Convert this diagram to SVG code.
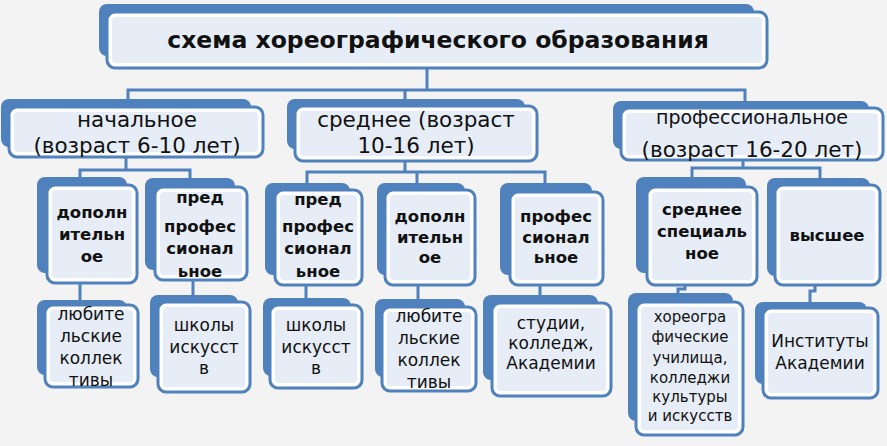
<svg xmlns="http://www.w3.org/2000/svg" width="887" height="446" viewBox="0 0 887 446">
<style>
.bk{fill:#4f81bd}
.fr{fill:#ffffff;stroke:#4f81bd;stroke-width:3}
.in{fill:#e6edf6}
.cn{fill:none;stroke:#4f81bd;stroke-width:3}
text{font-family:"DejaVu Sans","Liberation Sans",sans-serif;fill:#111111;text-anchor:middle}
.t0{font-size:23.5px;font-weight:bold}
.t1{font-size:21.5px}
.t2{font-size:16.5px;font-weight:bold}
.t3{font-size:17px}
.t4{font-size:15px}
</style>
<rect width="887" height="446" fill="#f3f3f3"/>
<g id="connectors">
<path class="cn" d="M427,68V90 M128,100V90H745V102 M405,90V100"/>
<path class="cn" d="M126,157V170 M80,178V170H190V179"/>
<path class="cn" d="M405,161V172 M307,184V172H545V184 M417,172V184"/>
<path class="cn" d="M743,160V168 M692,178V168H820V179"/>
<path class="cn" d="M80,283V301 M193,280V296 M306,285V299 M418,285V300 M540,285V296 M685,285V289H678V294 M815,285V291H810V303"/>
</g>
<g id="title">
<rect class="bk" x="99" y="4" width="655" height="52" rx="8"/>
<rect class="fr" x="107" y="12" width="660" height="56" rx="8"/>
<rect class="in" x="112" y="17" width="650" height="46" rx="4"/>
<text class="t0" x="438" y="48">схема хореографического образования</text>
</g>
<g id="n-nach">
<rect class="bk" x="1" y="99" width="250" height="48" rx="8"/>
<rect class="fr" x="9" y="107" width="254" height="50" rx="8"/>
<rect class="in" x="14" y="112" width="244" height="40" rx="4"/>
<text class="t1" x="137" y="127">начальное</text>
<text class="t1" x="137" y="153">(возраст 6-10 лет)</text>
</g>
<g id="n-sred">
<rect class="bk" x="287" y="99" width="238" height="50" rx="8"/>
<rect class="fr" x="295" y="106" width="242" height="55" rx="8"/>
<rect class="in" x="300" y="111" width="232" height="45" rx="4"/>
<text class="t1" x="416" y="127">среднее (возраст</text>
<text class="t1" x="416" y="153">10-16 лет)</text>
</g>
<g id="n-prof">
<rect class="bk" x="613" y="101" width="256" height="48" rx="8"/>
<rect class="fr" x="621" y="108" width="262" height="52" rx="8"/>
<rect class="in" x="626" y="113" width="252" height="42" rx="4"/>
<text class="t1" x="752" y="124" style="font-size:19px">профессиональное</text>
<text class="t1" x="752" y="157">(возраст 16-20 лет)</text>
</g>
<g id="n-dop1">
<rect class="bk" x="37" y="177" width="90" height="96" rx="8"/>
<rect class="fr" x="47" y="185" width="90" height="98" rx="8"/>
<rect class="in" x="52" y="190" width="80" height="88" rx="4"/>
<text class="t2" x="92" y="218">дополн</text>
<text class="t2" x="92" y="240">ительн</text>
<text class="t2" x="92" y="262">ое</text>
</g>
<g id="n-pred1">
<rect class="bk" x="145" y="178" width="90" height="92" rx="8"/>
<rect class="fr" x="155" y="187" width="92" height="93" rx="8"/>
<rect class="in" x="160" y="192" width="82" height="83" rx="4"/>
<text class="t2" x="200" y="203">пред</text>
<text class="t2" x="200" y="232">профес</text>
<text class="t2" x="200" y="254">сионал</text>
<text class="t2" x="200" y="277">ьное</text>
</g>
<g id="n-pred2">
<rect class="bk" x="265" y="183" width="85" height="92" rx="8"/>
<rect class="fr" x="275" y="190" width="87" height="95" rx="8"/>
<rect class="in" x="280" y="195" width="77" height="85" rx="4"/>
<text class="t2" x="318" y="205">пред</text>
<text class="t2" x="318" y="232">профес</text>
<text class="t2" x="318" y="254">сионал</text>
<text class="t2" x="318" y="277">ьное</text>
</g>
<g id="n-dop2">
<rect class="bk" x="377" y="183" width="88" height="92" rx="8"/>
<rect class="fr" x="385" y="190" width="90" height="95" rx="8"/>
<rect class="in" x="390" y="195" width="80" height="85" rx="4"/>
<text class="t2" x="430" y="222">дополн</text>
<text class="t2" x="430" y="243">ительн</text>
<text class="t2" x="430" y="263">ое</text>
</g>
<g id="n-prof2">
<rect class="bk" x="500" y="183" width="92" height="92" rx="8"/>
<rect class="fr" x="510" y="192" width="93" height="93" rx="8"/>
<rect class="in" x="515" y="197" width="83" height="83" rx="4"/>
<text class="t2" x="556" y="222">профес</text>
<text class="t2" x="556" y="243">сионал</text>
<text class="t2" x="556" y="263">ьное</text>
</g>
<g id="n-ssp">
<rect class="bk" x="636" y="177" width="110" height="96" rx="8"/>
<rect class="fr" x="647" y="187" width="110" height="98" rx="8"/>
<rect class="in" x="652" y="192" width="100" height="88" rx="4"/>
<text class="t2" x="702" y="215">среднее</text>
<text class="t2" x="702" y="237">специаль</text>
<text class="t2" x="702" y="259">ное</text>
</g>
<g id="n-vys">
<rect class="bk" x="767" y="178" width="103" height="98" rx="8"/>
<rect class="fr" x="775" y="185" width="105" height="100" rx="8"/>
<rect class="in" x="780" y="190" width="95" height="90" rx="4"/>
<text class="t2" x="827" y="241">высшее</text>
</g>
<g id="n-lub1">
<rect class="bk" x="37" y="300" width="90" height="75" rx="8"/>
<rect class="fr" x="45" y="305" width="93" height="82" rx="8"/>
<rect class="in" x="50" y="310" width="83" height="72" rx="4"/>
<text class="t3" x="91" y="320">любите</text>
<text class="t3" x="91" y="342">льские</text>
<text class="t3" x="91" y="364">коллек</text>
<text class="t3" x="91" y="386">тивы</text>
</g>
<g id="n-shk1">
<rect class="bk" x="150" y="295" width="88" height="82" rx="8"/>
<rect class="fr" x="158" y="302" width="92" height="90" rx="8"/>
<rect class="in" x="163" y="307" width="82" height="80" rx="4"/>
<text class="t3" x="204" y="331">школы</text>
<text class="t3" x="204" y="353">искусст</text>
<text class="t3" x="204" y="374">в</text>
</g>
<g id="n-shk2">
<rect class="bk" x="263" y="298" width="88" height="78" rx="8"/>
<rect class="fr" x="270" y="305" width="92" height="83" rx="8"/>
<rect class="in" x="275" y="310" width="82" height="73" rx="4"/>
<text class="t3" x="316" y="331">школы</text>
<text class="t3" x="316" y="353">искусст</text>
<text class="t3" x="316" y="374">в</text>
</g>
<g id="n-lub2">
<rect class="bk" x="375" y="299" width="90" height="78" rx="8"/>
<rect class="fr" x="382" y="307" width="94" height="84" rx="8"/>
<rect class="in" x="387" y="312" width="84" height="74" rx="4"/>
<text class="t3" x="429" y="322">любите</text>
<text class="t3" x="429" y="344">льские</text>
<text class="t3" x="429" y="366">коллек</text>
<text class="t3" x="429" y="388">тивы</text>
</g>
<g id="n-stud">
<rect class="bk" x="483" y="295" width="115" height="85" rx="8"/>
<rect class="fr" x="492" y="303" width="119" height="93" rx="8"/>
<rect class="in" x="497" y="308" width="109" height="83" rx="4"/>
<text class="t3" x="551" y="329">студии,</text>
<text class="t3" x="551" y="349">колледж,</text>
<text class="t3" x="551" y="369">Академии</text>
</g>
<g id="n-hor">
<rect class="bk" x="628" y="293" width="105" height="128" rx="8"/>
<rect class="fr" x="636" y="302" width="107" height="133" rx="8"/>
<rect class="in" x="641" y="307" width="97" height="123" rx="4"/>
<text class="t4" x="690" y="322">хореогра</text>
<text class="t4" x="690" y="342">фические</text>
<text class="t4" x="690" y="363">училища,</text>
<text class="t4" x="690" y="383">колледжи</text>
<text class="t4" x="690" y="402">культуры</text>
<text class="t4" x="690" y="421">и искусств</text>
</g>
<g id="n-inst">
<rect class="bk" x="755" y="302" width="112" height="82" rx="8"/>
<rect class="fr" x="763" y="308" width="115" height="90" rx="8"/>
<rect class="in" x="768" y="313" width="105" height="80" rx="4"/>
<text class="t3" x="820" y="347">Институты</text>
<text class="t3" x="820" y="369">Академии</text>
</g>
</svg>
